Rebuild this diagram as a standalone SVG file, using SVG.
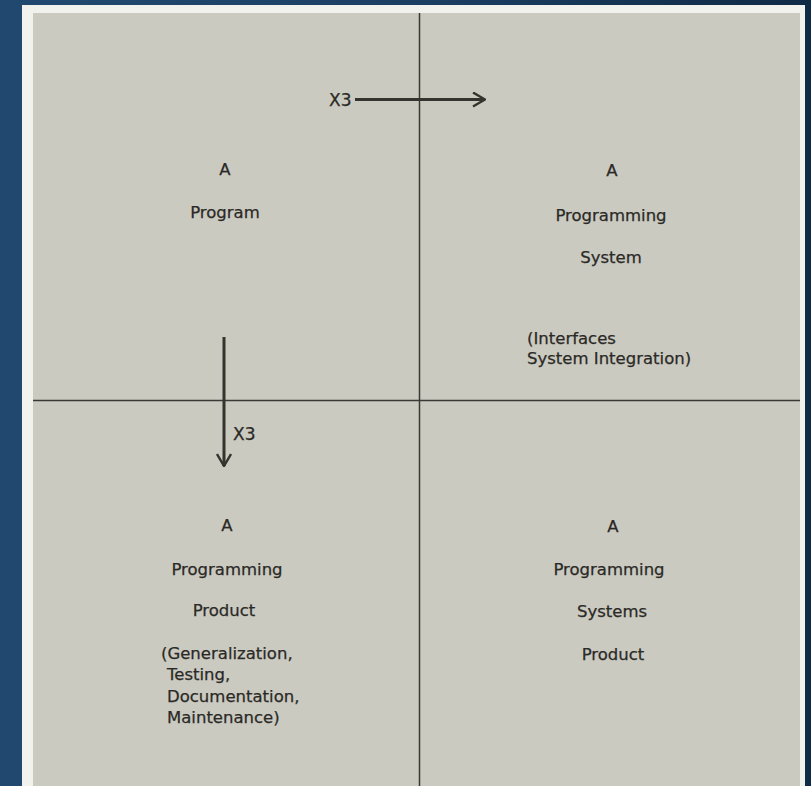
<svg xmlns="http://www.w3.org/2000/svg" width="811" height="786" viewBox="0 0 811 786">
<defs>
<linearGradient id="bg" x1="0" y1="0" x2="1" y2="0">
<stop offset="0" stop-color="#21496f"/>
<stop offset="0.5" stop-color="#1b3f63"/>
<stop offset="1" stop-color="#0f2a45"/>
</linearGradient>
<marker id="chev" viewBox="0 0 14 16" refX="13" refY="8" markerWidth="14" markerHeight="16" markerUnits="userSpaceOnUse" orient="auto">
<path d="M1,1 L13,8 L1,15" fill="none" stroke="#34332d" stroke-width="2.4"/>
</marker>
<style>
.t{font-family:"DejaVu Sans","Liberation Sans",sans-serif;font-size:16.5px;fill:#2a2925;stroke:#2a2925;stroke-width:0.25}
.c{text-anchor:middle}
.div{stroke:#3a3934;stroke-width:1.5;fill:none}
.arr{stroke:#34332d;stroke-width:3;fill:none;marker-end:url(#chev)}
</style>
</defs>
<rect x="0" y="0" width="811" height="786" fill="url(#bg)"/>
<rect x="22" y="5" width="783" height="790" fill="#f1f1ee"/>
<rect x="33" y="13" width="767" height="780" fill="#cacac1"/>
<g id="connectors">
<line class="div" x1="419.5" y1="13" x2="419.5" y2="786"/>
<line class="div" x1="33" y1="400.5" x2="800" y2="400.5"/>
<line class="arr" x1="355" y1="99.5" x2="485" y2="99.5"/>
<line class="arr" x1="224" y1="337" x2="224" y2="466"/>
<text class="t" x="329" y="106" style="font-size:17px">X3</text>
<text class="t" x="233" y="440" style="font-size:17px">X3</text>
</g>
<g id="program">
<text class="t c" x="225" y="175">A</text>
<text class="t c" x="225" y="218">Program</text>
</g>
<g id="programming-system">
<text class="t c" x="612" y="176">A</text>
<text class="t c" x="611" y="221">Programming</text>
<text class="t c" x="611" y="263">System</text>
<text class="t" x="527" y="344">(Interfaces</text>
<text class="t" x="527" y="364">System Integration)</text>
</g>
<g id="programming-product">
<text class="t c" x="227" y="531">A</text>
<text class="t c" x="227" y="575">Programming</text>
<text class="t c" x="224" y="616">Product</text>
<text class="t" x="161" y="659">(Generalization,</text>
<text class="t" x="167" y="680">Testing,</text>
<text class="t" x="167" y="702">Documentation,</text>
<text class="t" x="167" y="723">Maintenance)</text>
</g>
<g id="programming-systems-product">
<text class="t c" x="613" y="532">A</text>
<text class="t c" x="609" y="575">Programming</text>
<text class="t c" x="612" y="617">Systems</text>
<text class="t c" x="613" y="660">Product</text>
</g>
</svg>
